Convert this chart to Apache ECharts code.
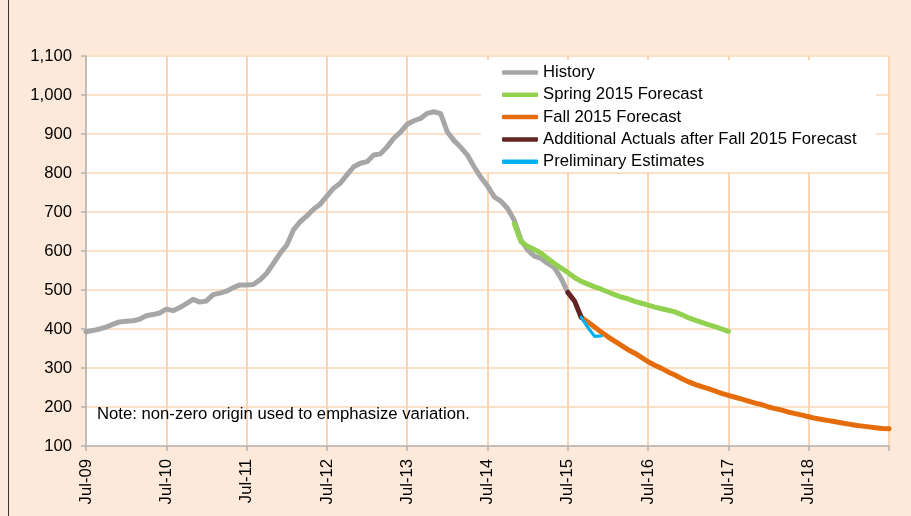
<!DOCTYPE html>
<html>
<head>
<meta charset="utf-8">
<script src="https://cdn.jsdelivr.net/npm/echarts@6/dist/echarts.min.js"></script>
<style>
html,body{margin:0;padding:0;background:#fde9d9;}
#chart{width:911px;height:516px;}
</style>
</head>
<body>
<div id="chart"></div>
<script>
// Month index 0 = Jul-09, one step per month
const xTickLabels = ['Jul-09','Jul-10','Jul-11','Jul-12','Jul-13','Jul-14','Jul-15','Jul-16','Jul-17','Jul-18',''];
const yTicks = [100,200,300,400,500,600,700,800,900,1000,1100];

const historyStart = 0;
const historyValues = [393,396,400,405,412,418,420,421,425,434,437,441,
  451,447,455,465,476,469,472,488,492,497,506,513,
  513,514,526,543,568,594,615,654,675,690,707,720,
  741,761,774,795,816,825,829,846,849,867,889,905,
  925,934,940,953,957,952,905,883,866,846,816,789,
  767,739,728,709,679,628,603,587,581,568,557,530,494];

const springStart = 64;
const springValues = [670,624,612,604,594,581,568,556,545,532,522,515,508,502,495,488,
  482,477,471,466,461,456,452,448,444,437,429,423,417,411,406,400,394];

const fallStart = 74;
const fallValues = [430,418,405,392,380,369,358,347,338,327,316,307,299,290,282,273,
  265,258,252,247,241,235,230,225,220,215,210,206,200,196,192,187,183,179,175,171,
  168,165,162,159,156,153,151,149,147,145,144];

const actualsStart = 72;
const actualsValues = [494,472,430];

const prelimStart = 74;
const prelimValues = [430,404,381,382];

const seriesNames = ['History','Spring 2015 Forecast','Fall 2015 Forecast','Additional Actuals after Fall 2015 Forecast','Preliminary Estimates'];
const seriesColors = ['#a6a6a6','#92d050','#e46c0a','#632523','#00b0f0'];

function pairs(start, vals){ return vals.map((v,i)=>[start+i, v]); }

const chart = echarts.init(document.getElementById('chart'));
const FONT = '"Liberation Sans", Arial, sans-serif';
const FS = 16.7;

const dataSets = [
  pairs(historyStart, historyValues),
  pairs(springStart, springValues),
  pairs(fallStart, fallValues),
  pairs(actualsStart, actualsValues),
  pairs(prelimStart, prelimValues)
];
const widths = [5,5,5,5,3.2];

chart.setOption({
  backgroundColor: '#fde9d9',
  animation: false,
  textStyle: {fontFamily: FONT},
  grid: {left: 86, top: 56, right: 22, bottom: 70, show: true, backgroundColor: '#ffffff', borderWidth: 0},
  xAxis: {
    type: 'value', min: 0, max: 120, interval: 12,
    axisLine: {show: true, lineStyle: {color: '#b3b3b3', width: 1.5}},
    axisTick: {show: true, length: 5, lineStyle: {color: '#b3b3b3', width: 1.5}},
    splitLine: {show: true, lineStyle: {color: '#fcd5b2', width: 2}},
    axisLabel: {
      rotate: 90, margin: 13, fontSize: FS, color: '#000', fontFamily: FONT,
      formatter: v => xTickLabels[Math.round(v/12)] || ''
    }
  },
  yAxis: {
    type: 'value', min: yTicks[0], max: yTicks[yTicks.length-1], interval: 100,
    axisLine: {show: true, lineStyle: {color: '#b3b3b3', width: 1.5}},
    axisTick: {show: true, length: 5, lineStyle: {color: '#b3b3b3', width: 1.5}},
    splitLine: {show: true, lineStyle: {color: '#fde0c8', width: 2}},
    axisLabel: {
      margin: 14, fontSize: FS, color: '#000', fontFamily: FONT,
      formatter: v => v.toLocaleString('en-US')
    }
  },
  legend: {
    orient: 'vertical', left: 502, top: 64, padding: 0,
    itemWidth: 36, itemHeight: 4.5, itemGap: 5.3,
    icon: 'roundRect',
    textStyle: {fontSize: FS, color: '#000', fontFamily: FONT, lineHeight: 17},
    data: seriesNames.map((n,i)=>({name:n, itemStyle:{color: seriesColors[i]}})),
    z: 5
  },
  graphic: [
    {type: 'rect', z: 1, shape: {x: 481, y: 60, width: 395, height: 112}, style: {fill: '#ffffff'}},
    {type: 'text', z: 3, left: 97, top: 406, style: {text: 'Note: non-zero origin used to emphasize variation.', font: FS + 'px "Liberation Sans", Arial, sans-serif', fill: '#000'}},
    {type: 'line', z: 3, shape: {x1: 8.5, y1: 0, x2: 8.5, y2: 516}, style: {stroke: '#333', lineWidth: 1}}
  ],
  series: dataSets.map((d,i)=>({
    name: seriesNames[i], type: 'line', data: d, showSymbol: false, symbol: 'none',
    color: seriesColors[i], z: 2 + i,
    lineStyle: {color: seriesColors[i], width: widths[i], cap: 'round', join: 'round'}
  }))
});
</script>
</body>
</html>
